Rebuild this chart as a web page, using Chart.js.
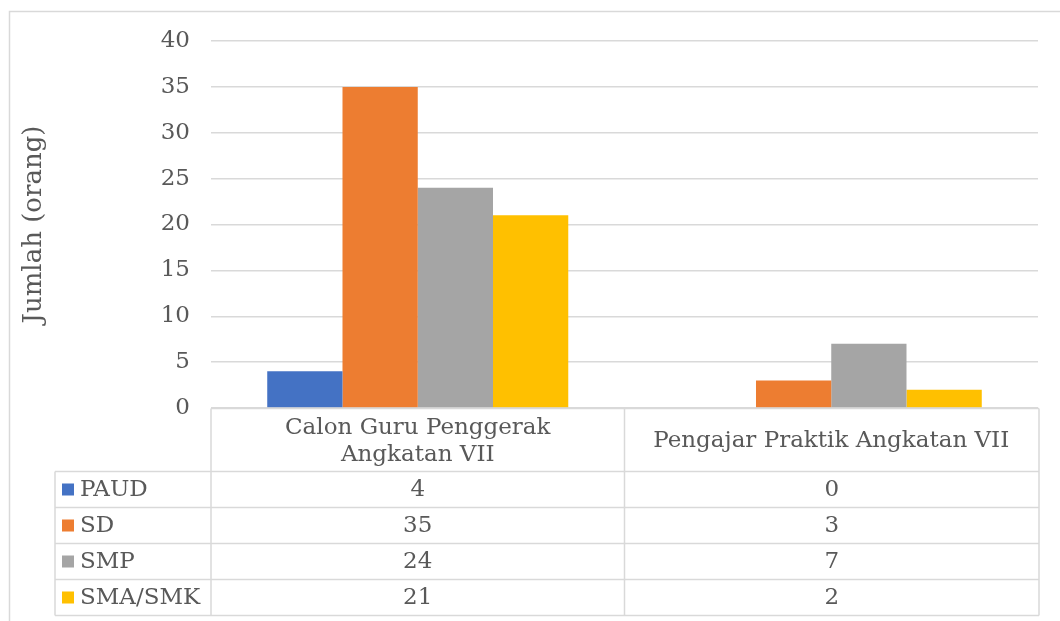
<!DOCTYPE html>
<html>
<head>
<meta charset="utf-8">
<script src="https://cdn.jsdelivr.net/npm/chart.js@4"></script>
<style>
  html, body { margin: 0; padding: 0; background: #fff; }
  #wrap { position: relative; width: 1060px; height: 621px; }
</style>
</head>
<body>
<div id="wrap"><canvas id="c" width="1060" height="621"></canvas></div>
<script>
const categories = [["Calon Guru Penggerak", "Angkatan VII"], "Pengajar Praktik Angkatan VII"];
const seriesNames = ["PAUD", "SD", "SMP", "SMA/SMK"];
const paud = [4, 0];
const sd = [35, 3];
const smp = [24, 7];
const smaSmk = [21, 2];
const seriesColors = ["#4472C4", "#ED7D31", "#A5A5A5", "#FFC000"];
const yTitle = "Jumlah (orang)";

const FONT = "'DejaVu Serif', 'Liberation Serif', serif";
const TEXT = "#595959";
const GRID = "#D9D9D9";
const HEADER_H = 63;
const ROW_H = 36;
const LEGEND_LEFT = 55;

const seriesValues = [paud, sd, smp, smaSmk];

const tablePlugin = {
  id: 'dataTable',
  beforeDraw(chart) {
    const ctx = chart.ctx;
    ctx.save();
    ctx.strokeStyle = GRID;
    ctx.lineWidth = 1.5;
    ctx.strokeRect(9.5, 11.5, 1200, 800);
    ctx.restore();
  },
  afterDraw(chart) {
    const ctx = chart.ctx;
    const xs = chart.scales.x;
    const area = chart.chartArea;
    const top = area.bottom + 0.5;
    const left = area.left;
    const right = area.right + 1;
    const mids = [];
    for (let i = 0; i < categories.length; i++) mids.push(xs.getPixelForValue(i));
    const bounds = [left];
    for (let i = 0; i < mids.length - 1; i++) bounds.push((mids[i] + mids[i + 1]) / 2);
    bounds.push(right);
    const headerBottom = top + HEADER_H;
    const tableBottom = headerBottom + ROW_H * seriesNames.length;

    ctx.save();
    ctx.strokeStyle = GRID;
    ctx.lineWidth = 1.5;
    ctx.beginPath();
    ctx.moveTo(left, top); ctx.lineTo(right, top);
    bounds.forEach(b => { ctx.moveTo(b, top); ctx.lineTo(b, tableBottom); });
    ctx.moveTo(LEGEND_LEFT, headerBottom); ctx.lineTo(LEGEND_LEFT, tableBottom);
    for (let r = 0; r <= seriesNames.length; r++) {
      const y = headerBottom + r * ROW_H;
      ctx.moveTo(LEGEND_LEFT, y); ctx.lineTo(right, y);
    }
    ctx.stroke();

    ctx.font = "23px " + FONT;
    ctx.fillStyle = TEXT;
    ctx.textBaseline = 'middle';
    seriesNames.forEach((name, r) => {
      const cy = headerBottom + r * ROW_H + ROW_H / 2;
      ctx.fillStyle = seriesColors[r];
      ctx.fillRect(LEGEND_LEFT + 7, cy - 6, 12, 12);
      ctx.fillStyle = TEXT;
      ctx.textAlign = 'left';
      ctx.fillText(name, LEGEND_LEFT + 25, cy + 1);
      ctx.textAlign = 'center';
      seriesValues[r].forEach((v, c) => {
        ctx.fillText(String(v), (bounds[c] + bounds[c + 1]) / 2, cy + 1);
      });
    });
    ctx.restore();
  }
};

new Chart(document.getElementById('c'), {
  type: 'bar',
  data: {
    labels: categories,
    datasets: seriesNames.map((n, i) => ({
      label: n,
      data: seriesValues[i],
      backgroundColor: seriesColors[i],
      borderWidth: 0,
      barPercentage: 1,
      categoryPercentage: 0.728
    }))
  },
  options: {
    responsive: false,
    animation: false,
    layout: { padding: { left: 15, top: 41, right: 22, bottom: 0 } },
    plugins: { legend: { display: false }, tooltip: { enabled: false } },
    scales: {
      x: {
        grid: { display: false, drawTicks: false },
        border: { display: false },
        ticks: {
          color: TEXT,
          font: { family: FONT, size: 23, lineHeight: 1.17 },
          padding: 20,
          crossAlign: 'center',
          maxRotation: 0,
          autoSkip: false
        },
        afterFit(scale) { scale.height = 213; }
      },
      y: {
        min: 0, max: 40,
        grid: { color: GRID, lineWidth: 1.5, drawTicks: false },
        border: { display: false },
        ticks: {
          stepSize: 5,
          color: TEXT,
          font: { family: FONT, size: 23 },
          padding: 21
        },
        title: {
          display: true,
          text: yTitle,
          color: TEXT,
          font: { family: FONT, size: 26 }
        },
        afterFit(scale) { scale.width = 196; }
      }
    }
  },
  plugins: [tablePlugin]
});
</script>
</body>
</html>
